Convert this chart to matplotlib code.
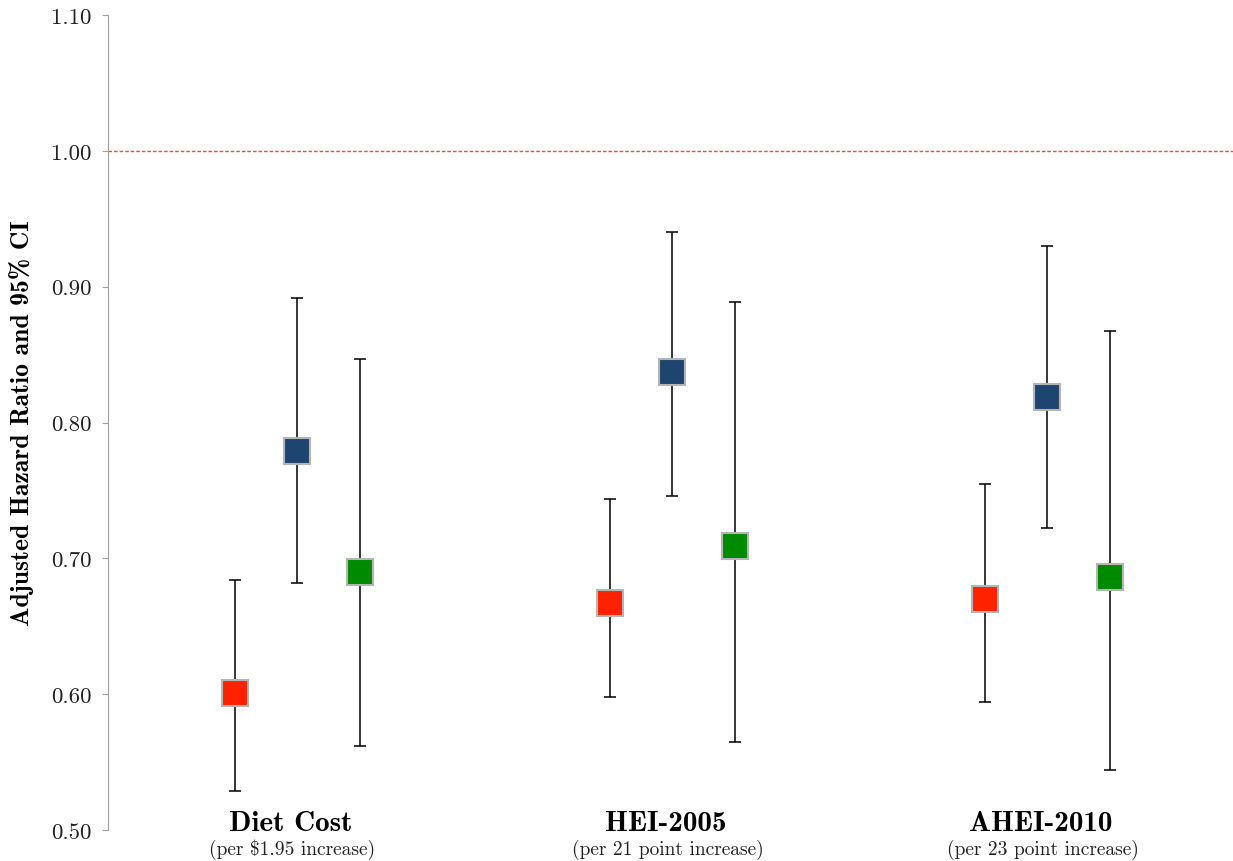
import numpy as np
import matplotlib
matplotlib.use("Agg")
import matplotlib.pyplot as plt

# hazard ratios per exposure (rows: Diet Cost, HEI-2005, AHEI-2010)
groups = ["Diet Cost", "HEI-2005", "AHEI-2010"]
subtitles = ["(per \\$1.95 increase)", "(per 21 point increase)", "(per 23 point increase)"]
series_colors = ["#ff2200", "#1d456f", "#008a00"]

hr_red = [0.601, 0.667, 0.670]
lo_red = [0.529, 0.598, 0.594]
hi_red = [0.684, 0.744, 0.755]

hr_blue = [0.779, 0.837, 0.819]
lo_blue = [0.682, 0.746, 0.722]
hi_blue = [0.892, 0.940, 0.930]

hr_green = [0.690, 0.709, 0.686]
lo_green = [0.562, 0.565, 0.544]
hi_green = [0.847, 0.889, 0.867]

yticks = [0.50, 0.60, 0.70, 0.80, 0.90, 1.00, 1.10]

fig = plt.figure(figsize=(12.33, 8.62), dpi=100)
ax = fig.add_axes([0.0876, 0.036, 0.9124, 0.9454])

x = np.arange(len(groups))
offset = 1 / 6
series = [
    (hr_red, lo_red, hi_red),
    (hr_blue, lo_blue, hi_blue),
    (hr_green, lo_green, hi_green),
]
for i, (hr, lo, hi) in enumerate(series):
    hr = np.array(hr)
    yerr = np.vstack([hr - np.array(lo), np.array(hi) - hr])
    xs = x + (i - 1) * offset
    ax.errorbar(xs, hr, yerr=yerr, fmt="none", ecolor="#000000",
                elinewidth=1.1, capsize=4.5, capthick=1.1, zorder=2)
    ax.plot(xs, hr, linestyle="none", marker="s", markersize=19,
            markerfacecolor=series_colors[i], markeredgecolor="#b5b5b5",
            markeredgewidth=1.5, zorder=3)

# reference line at HR = 1
ax.axhline(1.0, color="#ff4a28", linestyle=(0, (2.6, 1.4)), linewidth=1.0, zorder=1)

ax.set_xlim(-0.504, 2.496)
ax.set_ylim(0.50, 1.10)
ax.set_yticks(yticks)
ax.set_yticklabels([f"{t:.2f}" for t in yticks], fontfamily="cmr10", fontsize=16.5,
                   color="#222222")
ax.set_xticks([])
for s in ["top", "right", "bottom"]:
    ax.spines[s].set_visible(False)
ax.spines["left"].set_color("#a0a0a0")
ax.tick_params(axis="y", direction="out", length=4, color="#a0a0a0", pad=8)

ax.set_ylabel("Adjusted Hazard Ratio and 95% CI", fontfamily="cmb10",
              fontsize=18.5, labelpad=12)

for i, (g, sub) in enumerate(zip(groups, subtitles)):
    ax.text(x[i] - 0.018, 0.505, g, transform=ax.transData, ha="center", va="center",
            fontfamily="cmb10", fontsize=21, clip_on=False)
    ax.text(x[i] - 0.012, 0.486, sub, transform=ax.transData, ha="center", va="center",
            fontfamily="cmr10", fontsize=14, color="#222222", clip_on=False)

fig.savefig("out.png", dpi=100)
